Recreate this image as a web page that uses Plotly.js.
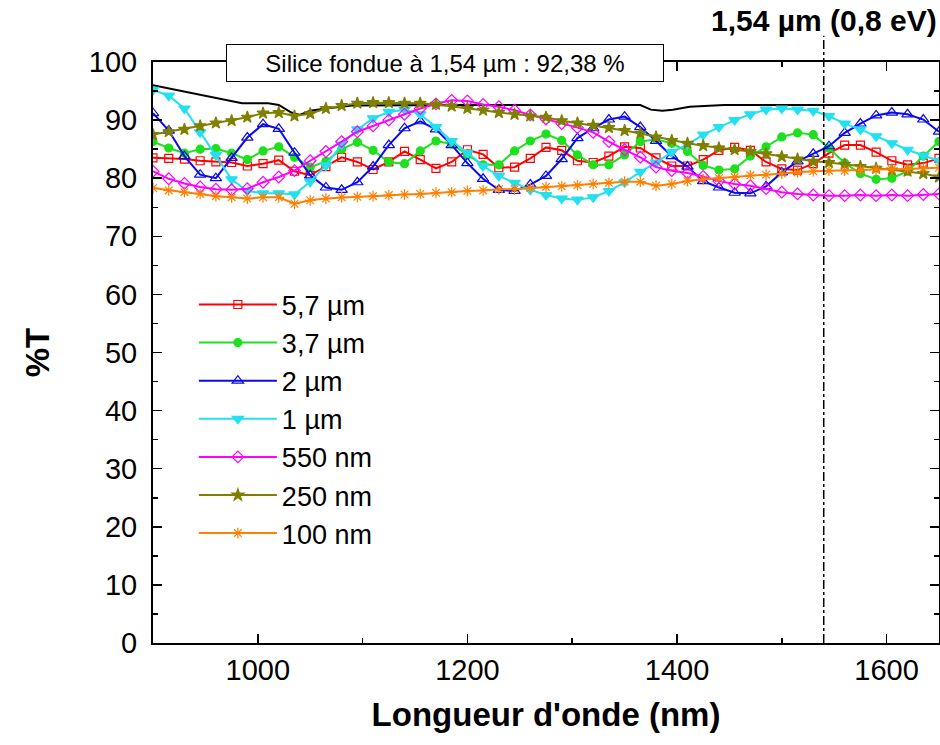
<!DOCTYPE html>
<html>
<head>
<meta charset="utf-8">
<script src="https://cdn.plot.ly/plotly-3.0.1.min.js"></script>
<style>html,body{margin:0;padding:0;background:#fff;}#chart{width:940px;height:745px;}</style>
</head>
<body>
<div id="chart"></div>
<script>
// Wavelength grid (nm)
const wavelength = [900,915,930,945,960,975,990,1005,1020,1035,1050,1065,1080,1095,1110,1125,1140,1155,1170,1185,1200,1215,1230,1245,1260,1275,1290,1305,1320,1335,1350,1365,1380,1395,1410,1425,1440,1455,1470,1485,1500,1515,1530,1545,1560,1575,1590,1605,1620,1635,1650];

// Transmission (%T) per film thickness
const t_5_7um = [83.5,83.4,83.3,83.0,82.8,82.7,82.1,82.5,83.1,81.2,80.5,82.0,83.6,82.8,81.5,82.8,84.6,83.2,81.7,82.8,84.9,84.1,81.8,81.9,83.4,85.3,84.8,83.0,82.7,83.8,85.4,85.2,83.5,82.1,82.1,83.2,84.8,85.3,84.8,82.8,81.6,81.4,82.5,84.3,85.7,85.7,84.5,83.0,82.3,82.6,83.4];
const t_3_7um = [86.3,85.2,84.3,85.0,85.1,84.3,83.2,84.7,85.4,83.6,81.9,82.9,85.0,86.2,84.8,82.8,82.5,84.7,86.4,85.9,84.0,82.3,82.3,84.7,86.4,87.6,86.5,84.0,82.3,82.3,84.0,86.3,86.7,86.0,84.6,82.2,81.4,81.6,83.8,85.4,87.1,87.8,87.5,85.2,82.6,80.8,79.8,80.0,81.2,83.8,86.3];
const t_2um = [91.2,88.2,83.8,80.6,80.0,83.5,87.0,89.3,88.5,84.4,80.5,78.4,78.0,79.3,82.0,85.7,88.6,89.8,88.4,85.7,82.6,79.9,78.0,77.8,78.9,80.4,83.3,86.9,88.6,90.1,90.6,88.8,86.4,83.8,82.0,79.5,78.4,77.5,77.4,78.6,81.0,82.9,84.2,85.5,87.8,89.4,90.8,91.3,91.0,90.1,88.0];
const t_1um = [95.2,94.2,92.0,87.9,84.0,79.8,77.8,77.4,77.4,77.2,79.4,82.2,85.8,88.4,90.3,91.4,91.8,91.0,88.8,86.4,84.4,82.1,80.4,79.2,78.0,77.1,76.5,76.3,76.7,77.8,79.3,81.1,82.7,84.5,85.8,87.5,88.8,90.0,91.0,91.8,92.0,91.8,91.6,90.7,89.4,88.4,87.2,86.0,84.9,83.9,83.0];
const t_550nm = [81.2,79.9,79.1,78.5,78.1,78.0,78.2,79.3,80.2,81.3,83.0,84.6,86.3,88.0,89.0,90.0,91.0,92.0,92.8,93.4,93.3,92.7,92.3,91.7,90.9,90.2,89.4,88.7,87.9,86.3,84.9,83.6,81.9,81.3,80.9,80.3,79.5,79.0,78.7,78.2,77.6,77.3,77.1,77.0,77.0,77.1,77.0,77.1,77.0,77.2,77.3];
const t_250nm = [87.5,88.0,88.4,89.0,89.5,89.9,90.5,91.2,91.3,90.7,91.1,92.0,92.5,92.9,93.0,93.0,92.9,92.9,92.7,92.4,92.0,91.7,91.3,91.0,90.7,90.5,89.9,89.5,89.1,88.7,88.2,87.7,87.1,86.5,86.0,85.6,85.2,84.9,84.6,84.2,83.7,83.3,82.9,82.7,82.4,82.0,81.7,81.4,81.2,80.8,80.2];
const t_100nm = [78.3,77.9,77.6,77.3,76.9,76.7,76.5,76.7,76.7,75.6,76.2,76.5,76.7,76.8,76.9,77.1,77.2,77.3,77.5,77.6,77.8,77.9,78.1,78.1,78.3,78.5,78.6,78.8,79.0,79.2,79.4,79.4,78.7,79.0,79.5,79.8,80.0,80.2,80.5,80.6,80.8,81.0,81.2,81.3,81.3,81.4,81.5,81.5,81.6,81.7,81.8];

// Fused silica reference
const silicaX = [900,930,960,985,1010,1020,1032,1040,1050,1065,1090,1200,1365,1375,1386,1396,1412,1445,1500,1650];
const silicaT = [96.0,94.9,93.8,92.9,92.9,92.6,91.3,90.9,91.6,92.0,92.5,92.6,92.6,91.8,91.6,91.8,92.3,92.6,92.6,92.6];

const seriesNames = ["5,7 µm","3,7 µm","2 µm","1 µm","550 nm","250 nm","100 nm"];
const seriesData = [t_5_7um,t_3_7um,t_2um,t_1um,t_550nm,t_250nm,t_100nm];
const seriesColors = ["#FF0000","#1EE01E","#0A0AF0","#22E0F0","#FF00FF","#808000","#FF8000"];
const seriesSymbols = ["square-open","circle","triangle-up-open","triangle-down","diamond-open","star","asterisk-open"];
const seriesSizes = [8,8,10,10,9,9,9];

const markerLine = 1.2;
const F = "Liberation Sans, Arial, sans-serif";

const traces = [{
  x: silicaX, y: silicaT, type: "scatter", mode: "lines",
  line: {color: "#000000", width: 2}, showlegend: false, hoverinfo: "skip"
}];
seriesData.forEach((d, i) => {
  traces.push({
    x: wavelength, y: d, type: "scatter", mode: "lines+markers",
    name: seriesNames[i], legendgroup: "g" + i,
    line: {color: seriesColors[i], width: 2},
    marker: {symbol: seriesSymbols[i], size: seriesSizes[i], color: seriesColors[i],
             line: {color: seriesColors[i], width: markerLine}}
  });
});

const layout = {
  width: 940, height: 745,
  margin: {l: 153, r: 1, t: 62, b: 102},
  paper_bgcolor: "#ffffff", plot_bgcolor: "#ffffff",
  font: {family: F, color: "#000"},
  showlegend: true,
  legend: {
    x: 0.052, y: 0.624, xanchor: "left", yanchor: "top",
    bgcolor: "rgba(0,0,0,0)", font: {size: 27, family: F},
    traceorder: "grouped", tracegroupgap: 0, itemwidth: 78
  },
  xaxis: {
    range: [900, 1650], tick0: 1000, dtick: 200,
    ticks: "inside", ticklen: 9, tickwidth: 1.5, tickcolor: "#000",
    minor: {dtick: 100, tick0: 900, ticks: "inside", ticklen: 5, tickwidth: 1.5, tickcolor: "#000"},
    showline: true, linewidth: 2, linecolor: "#000", mirror: "ticks",
    showgrid: false, zeroline: false,
    tickfont: {size: 29, family: F},
    title: {text: "Longueur d'onde (nm)", font: {size: 33, family: F, weight: "bold"}, standoff: 18}
  },
  yaxis: {
    range: [0, 100], dtick: 10,
    ticks: "inside", ticklen: 9, tickwidth: 1.5, tickcolor: "#000",
    minor: {dtick: 5, ticks: "inside", ticklen: 5, tickwidth: 1.5, tickcolor: "#000"},
    showline: true, linewidth: 2, linecolor: "#000", mirror: "ticks",
    showgrid: false, zeroline: false, ticklabelstandoff: 8,
    tickfont: {size: 29, family: F},
    title: {text: "%T", font: {size: 33, family: F, weight: "bold"}, standoff: 29}
  },
  shapes: [{
    type: "line", xref: "x", yref: "paper", x0: 1540, x1: 1540, y0: 0, y1: 1.045,
    line: {color: "#000", width: 1.5, dash: "dashdot"}
  }],
  annotations: [
    {
      xref: "paper", yref: "paper", x: 0.371, y: 0.998, xanchor: "center", yanchor: "middle",
      text: "Silice fondue à 1,54 µm : 92,38 %", showarrow: false,
      font: {size: 24, family: F, color: "#000"},
      bgcolor: "#ffffff", bordercolor: "#000", borderwidth: 1, borderpad: 2,
      width: 432, height: 32
    },
    {
      xref: "x", yref: "paper", x: 1540, y: 1.072, xanchor: "center", yanchor: "middle",
      text: "<b>1,54 µm (0,8 eV)</b>", showarrow: false,
      font: {size: 30, family: F, color: "#000"}
    }
  ]
};

Plotly.newPlot("chart", traces, layout, {displayModeBar: false, staticPlot: true});
</script>
</body>
</html>
